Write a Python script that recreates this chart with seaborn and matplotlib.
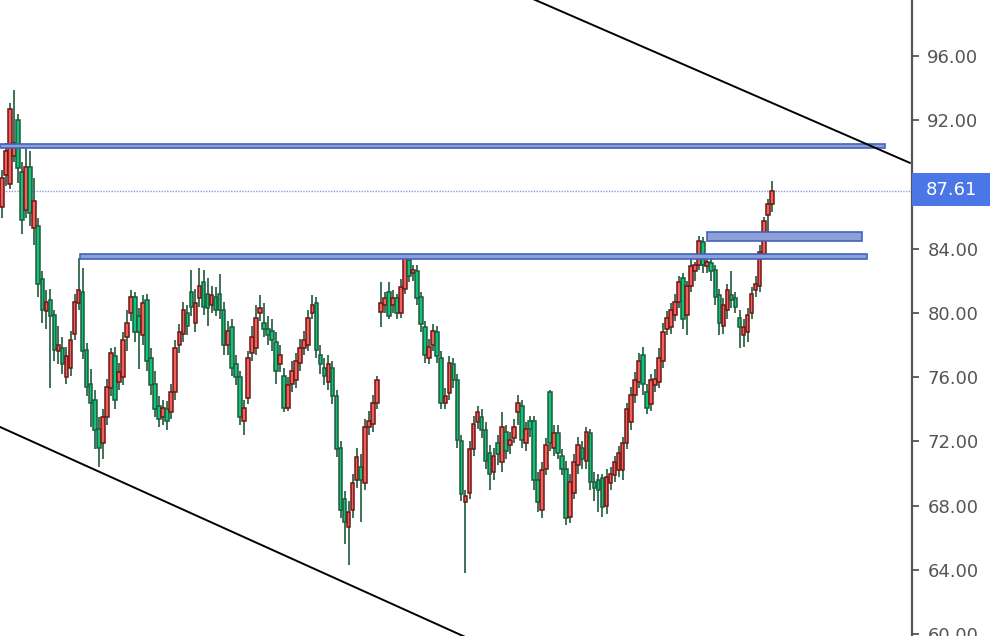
import numpy as np
import pandas as pd
import matplotlib
matplotlib.use("Agg")
import matplotlib.pyplot as plt
import matplotlib.transforms as mtransforms
from matplotlib.patches import Rectangle
import seaborn as sns

# candles (red = up, green = down)
opens = [86.6, 88.6, 88.0, 89.8, 92.0, 88.8, 86.4, 89.1, 85.3, 85.4,
         82.1, 80.1, 80.8, 79.9, 77.6, 77.8, 76.0, 76.6, 78.7, 80.6,
         81.3, 77.7, 75.6, 74.6, 72.8, 71.9, 73.5, 75.3, 77.3, 75.7,
         76.0, 78.5, 80.0, 81.0, 79.8, 78.6, 80.8, 77.2, 75.6, 74.2,
         73.5, 74.0, 73.8, 75.1, 78.0, 78.7, 80.0, 81.3, 79.4, 80.9,
         81.9, 81.2, 80.5, 81.0, 81.2, 80.2, 78.0, 79.1, 76.8, 76.0,
         73.3, 74.7, 77.5, 77.8, 80.0, 79.4, 79.0, 78.9, 78.2, 76.8,
         76.1, 74.1, 75.6, 75.8, 76.9, 77.8, 78.0, 80.0, 80.6, 77.4,
         76.6, 75.7, 76.6, 74.8, 71.6, 68.4, 66.7, 67.7, 69.6, 70.4,
         69.4, 72.9, 73.1, 74.4, 80.05, 80.5, 81.3, 80.5, 80.9, 80.0,
         81.5, 83.3, 82.5, 82.6, 81.0, 79.1, 77.2, 78.0, 78.8, 77.2,
         74.4, 75.0, 76.8, 75.8, 72.0, 68.2, 68.8, 71.5, 73.2, 73.5,
         72.7, 71.3, 70.1, 71.9, 70.7, 72.6, 71.8, 72.2, 73.8, 74.2,
         71.9, 73.3, 73.3, 69.6, 67.7, 70.3, 75.1, 71.6, 72.5, 71.1,
         70.3, 67.3, 68.8, 70.5, 71.6, 70.8, 72.5, 69.5, 69.6, 69.7,
         68.0, 69.4, 69.9, 70.2, 70.2, 71.9, 73.2, 74.9, 75.7, 77.4,
         75.1, 74.3, 75.5, 75.7, 77.0, 79.0, 79.1, 79.9, 80.7, 82.2,
         79.9, 81.7, 82.6, 83.0, 84.4, 82.9, 83.1, 82.7, 81.1, 79.2,
         80.2, 81.1, 80.9, 79.7, 78.6, 78.8, 80.0, 81.4, 81.7, 83.7,
         86.1, 86.8]
highs = [88.9, 90.6, 93.1, 93.9, 92.4, 89.4, 90.3, 90.1, 88.4, 85.9,
         82.6, 81.4, 81.5, 80.2, 79.2, 78.5, 77.9, 78.9, 81.2, 83.4,
         82.8, 78.1, 76.5, 75.2, 73.5, 74.0, 75.9, 77.8, 77.9, 76.9,
         78.8, 80.2, 81.4, 81.3, 80.3, 81.1, 81.2, 77.8, 76.4, 74.8,
         74.6, 74.5, 75.6, 78.3, 79.3, 80.7, 80.5, 82.7, 81.5, 82.8,
         82.7, 82.2, 81.7, 81.6, 82.4, 80.7, 79.5, 79.6, 77.4, 76.4,
         74.6, 77.6, 79.2, 80.5, 81.1, 80.6, 79.8, 79.6, 78.8, 78.0,
         76.6, 76.0, 77.0, 77.5, 78.4, 78.9, 80.2, 81.1, 81.0, 78.0,
         77.2, 77.4, 77.0, 75.2, 72.0, 68.9, 68.3, 70.0, 71.6, 71.2,
         73.4, 73.9, 74.9, 76.1, 81.9, 81.3, 81.9, 81.4, 81.2, 82.1,
         83.6, 83.4, 83.0, 83.0, 81.3, 79.5, 78.4, 79.3, 79.2, 77.6,
         75.3, 77.3, 77.2, 76.2, 72.4, 69.0, 72.0, 73.6, 74.2, 74.0,
         73.2, 71.8, 71.6, 72.4, 73.8, 73.0, 72.6, 73.4, 74.9, 74.6,
         73.2, 73.6, 73.6, 70.1, 70.7, 72.2, 75.2, 73.0, 73.0, 71.5,
         70.8, 70.0, 71.2, 72.3, 72.0, 72.9, 72.8, 70.1, 70.0, 70.0,
         70.3, 70.4, 71.1, 71.7, 72.3, 74.4, 75.4, 76.3, 77.5, 77.9,
         75.6, 76.2, 76.5, 77.8, 79.4, 80.1, 80.6, 81.2, 82.3, 82.5,
         82.0, 83.4, 83.2, 84.8, 84.7, 83.6, 83.5, 83.0, 81.5, 80.9,
         81.8, 82.6, 81.3, 80.2, 79.6, 80.3, 81.6, 82.3, 84.2, 86.0,
         87.1, 88.2]
lows = [85.9, 87.9, 87.7, 89.4, 88.1, 84.9, 85.9, 85.4, 84.2, 81.0,
        79.4, 79.0, 75.3, 77.0, 76.8, 76.2, 75.6, 76.1, 78.3, 80.2,
        77.1, 74.8, 72.9, 71.5, 70.4, 70.9, 73.0, 74.8, 74.0, 75.2,
        75.5, 77.6, 79.5, 78.2, 76.5, 78.0, 76.4, 74.9, 73.5, 72.9,
        73.0, 72.7, 73.4, 74.6, 77.5, 78.2, 78.6, 79.8, 78.8, 80.4,
        79.9, 79.2, 80.0, 79.8, 79.6, 77.4, 77.4, 76.1, 75.5, 73.0,
        72.4, 74.3, 77.0, 77.4, 79.5, 78.5, 78.0, 77.6, 75.6, 76.3,
        73.8, 73.9, 75.1, 75.3, 76.4, 77.4, 77.6, 79.6, 77.2, 76.2,
        75.5, 75.2, 74.3, 71.0, 67.2, 65.6, 64.3, 67.2, 69.1, 67.0,
        69.0, 72.4, 72.6, 74.0, 79.1, 80.0, 79.6, 80.0, 79.6, 79.7,
        81.2, 81.9, 82.0, 80.5, 78.8, 76.9, 76.8, 77.6, 76.9, 74.0,
        74.0, 74.6, 75.3, 71.6, 68.3, 63.8, 68.4, 71.1, 72.8, 72.2,
        70.3, 69.0, 69.6, 70.5, 70.1, 70.9, 71.2, 71.9, 73.0, 71.6,
        71.4, 72.3, 69.0, 67.6, 67.2, 69.9, 71.4, 71.1, 70.9, 69.9,
        66.8, 66.9, 68.4, 70.0, 70.3, 70.3, 69.0, 68.3, 67.6, 67.3,
        67.5, 69.0, 69.5, 69.8, 69.6, 71.5, 72.7, 74.4, 75.3, 74.9,
        73.7, 73.9, 75.1, 75.3, 76.6, 78.6, 78.7, 79.5, 80.3, 79.0,
        78.6, 81.3, 82.0, 82.7, 82.5, 82.5, 82.0, 80.5, 78.6, 78.7,
        79.6, 80.3, 80.0, 77.8, 77.9, 78.2, 79.6, 81.0, 81.3, 83.4,
        84.8, 86.3]
closes = [88.4, 90.1, 92.7, 90.6, 89.0, 85.8, 89.1, 86.2, 87.0, 81.8,
          80.2, 80.7, 79.8, 77.7, 78.0, 76.8, 77.3, 78.3, 80.7, 81.4,
          77.6, 75.4, 74.4, 72.7, 71.6, 73.5, 75.4, 77.5, 74.6, 76.3,
          78.3, 79.4, 81.0, 78.8, 78.8, 80.6, 77.0, 75.5, 74.0, 73.4,
          74.1, 73.3, 75.1, 77.8, 78.8, 80.2, 79.2, 80.4, 80.6, 81.7,
          80.4, 80.3, 81.1, 80.2, 80.2, 78.0, 78.9, 76.6, 76.0, 73.5,
          74.1, 77.2, 78.5, 79.7, 80.3, 79.0, 78.6, 78.3, 76.4, 77.4,
          74.1, 75.5, 76.4, 77.0, 77.8, 78.3, 79.7, 80.5, 77.7, 76.8,
          76.1, 76.8, 74.8, 71.5, 67.7, 67.0, 67.6, 69.4, 71.0, 69.6,
          72.9, 73.3, 74.4, 75.8, 80.6, 80.9, 79.8, 80.9, 80.0, 81.6,
          83.4, 82.3, 82.7, 80.9, 79.3, 77.4, 77.9, 78.9, 77.3, 74.4,
          74.8, 76.9, 75.8, 72.1, 68.7, 68.6, 71.5, 73.1, 73.8, 72.7,
          70.8, 70.0, 71.1, 71.2, 72.9, 71.4, 72.1, 72.9, 74.4, 72.1,
          72.8, 72.8, 69.6, 68.2, 70.2, 71.8, 71.9, 72.5, 71.3, 70.3,
          67.2, 69.5, 70.7, 71.8, 70.9, 72.6, 69.5, 69.1, 69.0, 67.9,
          69.8, 70.0, 70.7, 71.3, 71.9, 74.0, 74.9, 75.8, 77.0, 75.6,
          74.1, 75.8, 75.9, 77.2, 78.8, 79.7, 80.2, 80.7, 81.9, 79.6,
          81.7, 82.9, 83.0, 84.5, 83.0, 83.2, 82.6, 81.0, 79.4, 80.5,
          81.4, 80.8, 80.4, 79.1, 79.1, 79.9, 81.2, 81.8, 83.8, 85.7,
          86.8, 87.61]

last_price = 87.61
# 88.00 sits under the last-price tag, so it is not labelled
y_ticks = [60, 64, 68, 72, 76, 80, 84, 92, 96, 100]

# support / resistance zones (bar index start/end, price low/high)
zone_start = [-0.5, 19.35, 174.9]
zone_end = [219.1, 214.6, 213.4]
zone_low = [90.27, 83.36, 84.48]
zone_high = [90.52, 83.67, 85.02]

# channel lines (two points each, bar index / price)
upper_x = [120.0, 225.3]
upper_y = [100.83, 89.34]
lower_x = [-0.5, 120.0]
lower_y = [72.90, 59.25]

df = pd.DataFrame({"open": opens, "high": highs, "low": lows, "close": closes})
df["idx"] = np.arange(len(df))
df["up"] = df["close"] >= df["open"]

sns.set_style("white")
plt.rcParams["font.family"] = ["DejaVu Sans"]

fig = plt.figure(figsize=(9.98, 6.36), dpi=100)
ax = fig.add_axes([0, -0.02736, 912 / 998, 1.06058])

# wicks
ax.vlines(df["idx"], df["low"], df["high"], color="#1f5a3c", lw=1.2, zorder=2)

# bodies
body_lo = df[["open", "close"]].min(axis=1)
body_h = (df["close"] - df["open"]).abs().clip(lower=0.18)
fills = np.where(df["up"], "#f2625a", "#10c47a")
edges = np.where(df["up"], "#6e1616", "#1f5a3c")
ax.bar(df["idx"], body_h, bottom=body_lo, width=0.9, color=fills,
       edgecolor=edges, linewidth=1.1, zorder=3)

# zones
for x0, x1, lo, hi in zip(zone_start, zone_end, zone_low, zone_high):
    ax.add_patch(Rectangle((x0, lo), x1 - x0, hi - lo, facecolor="#8c9fd6",
                           edgecolor="#4262bc", lw=1.2, zorder=4))

# channel lines
sns.lineplot(x=upper_x, y=upper_y, color="black", lw=1.4, ax=ax, zorder=5)
sns.lineplot(x=lower_x, y=lower_y, color="black", lw=1.4, ax=ax, zorder=5)

# last price line + tag
ax.axhline(last_price, color="#7f9cf5", ls=(0, (1, 1)), lw=1.0, zorder=1)
trans = mtransforms.blended_transform_factory(ax.transAxes, ax.transData)
ax.add_patch(Rectangle((1.0, last_price - 0.97), 78 / 912, 2.05, transform=trans,
                       facecolor="#4b77e6", edgecolor="none", clip_on=False, zorder=6))
ax.text(1.0 + 14 / 912, last_price + 0.05, f"{last_price:.2f}", transform=trans,
        color="white", fontsize=13, ha="left", va="center", zorder=7)

ax.set_xlim(-0.5, 225.8)
ax.set_ylim(58.8, 100.8)
ax.set_xticks([])
ax.yaxis.tick_right()
ax.set_yticks(y_ticks)
ax.set_yticklabels([f"{v:.2f}" for v in y_ticks])
ax.tick_params(axis="y", direction="out", length=5, width=1.3, color="#555555",
               labelcolor="#555555", labelsize=13, pad=6)
for side in ["left", "top", "bottom"]:
    ax.spines[side].set_visible(False)
ax.spines["right"].set_color("#555555")
ax.spines["right"].set_linewidth(1.6)
ax.set_xlabel("")
ax.set_ylabel("")

fig.savefig("out.png", dpi=100)
